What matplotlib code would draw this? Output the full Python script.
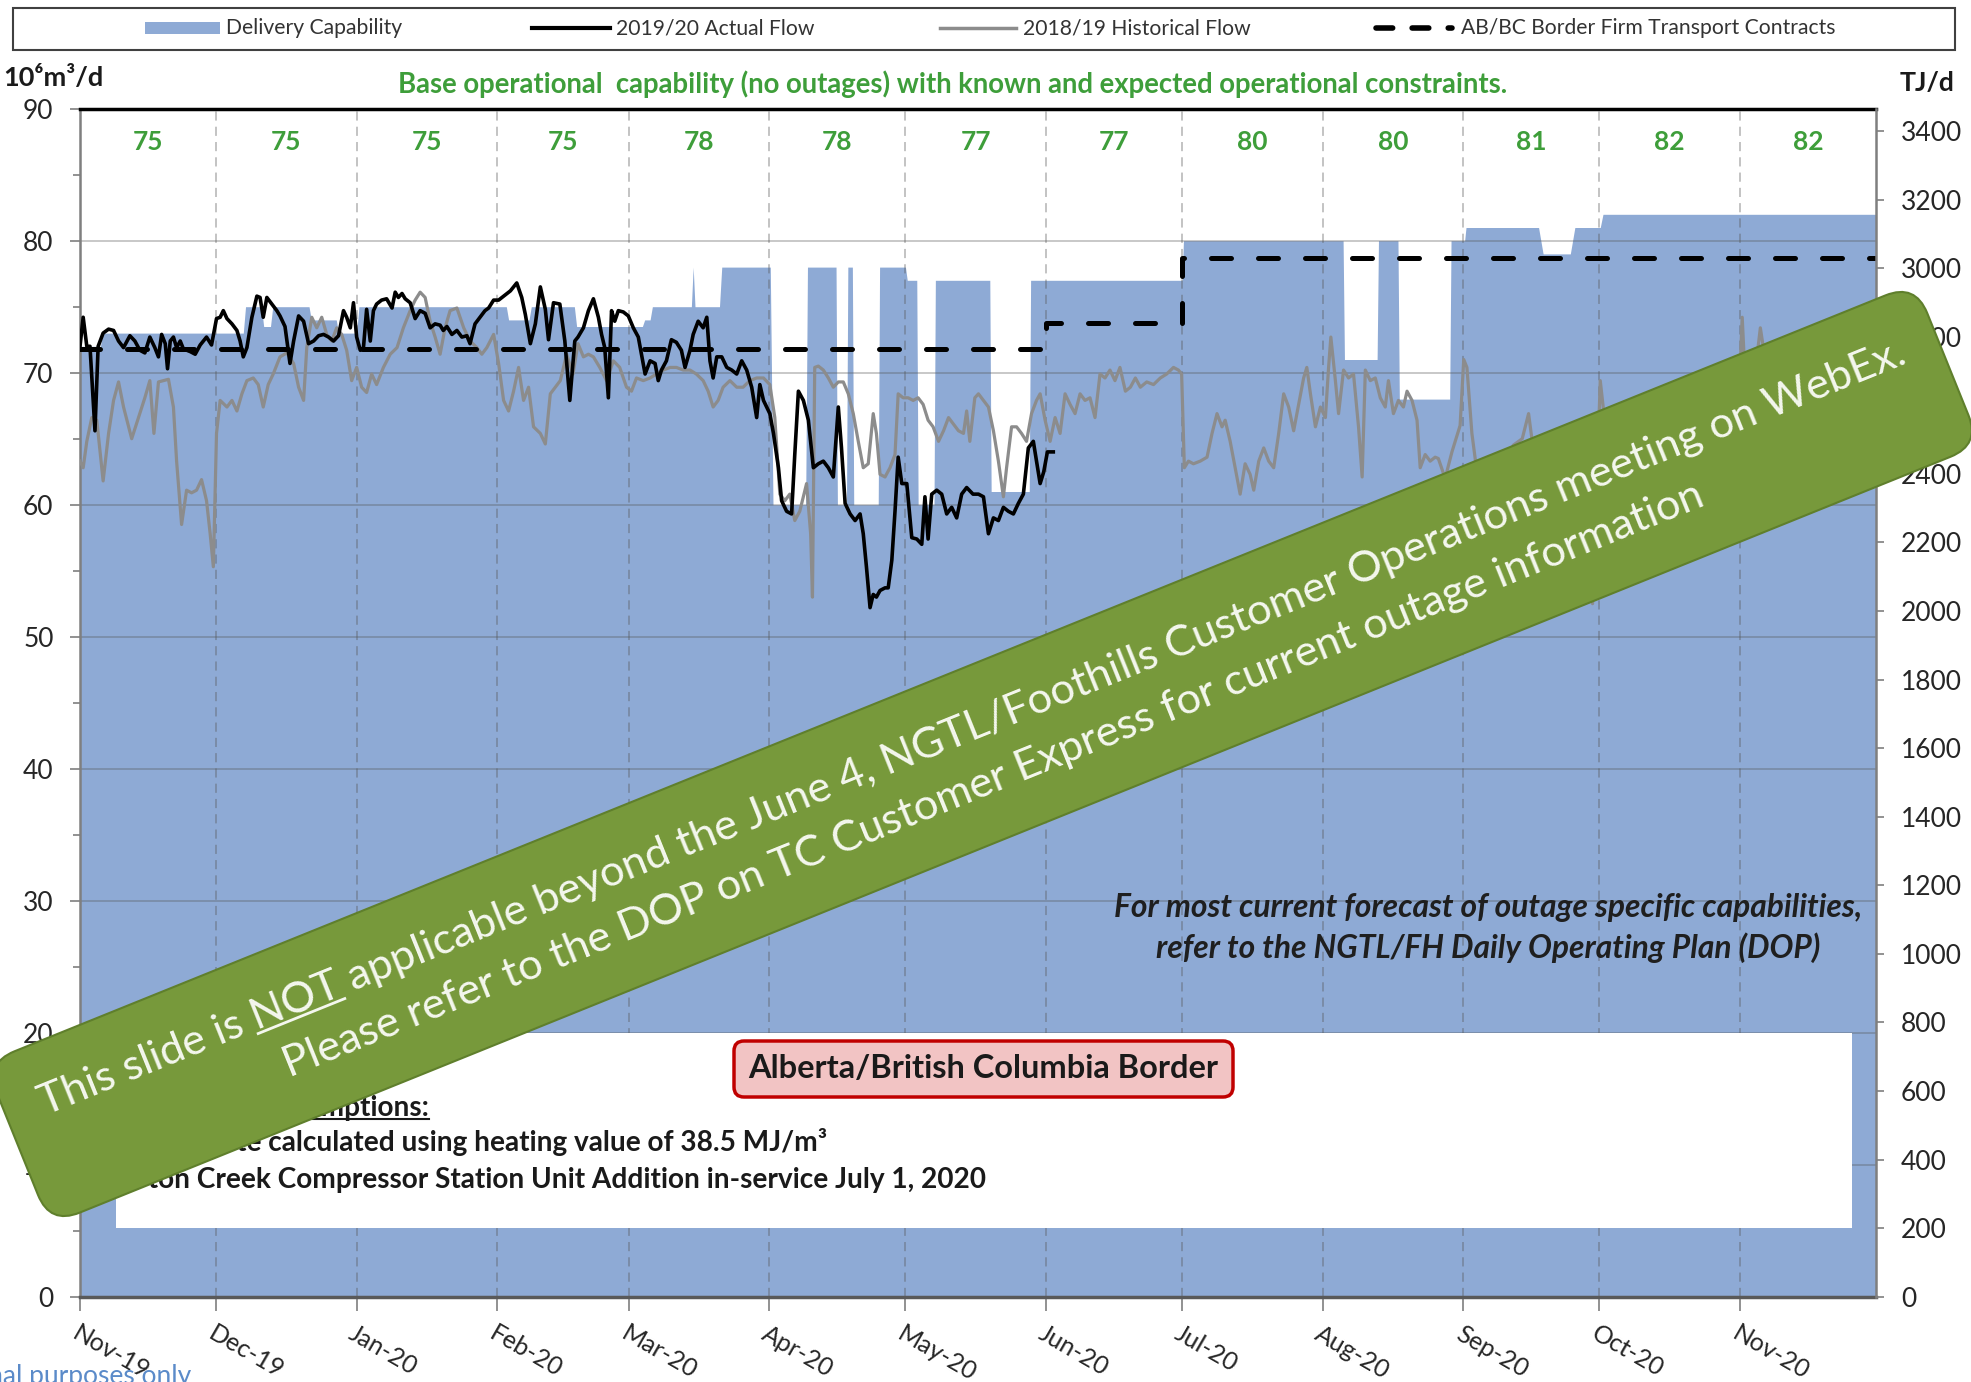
import numpy as np
import matplotlib
matplotlib.use('Agg')
import matplotlib.pyplot as plt
from matplotlib.patches import Rectangle, FancyBboxPatch
from matplotlib.lines import Line2D
from matplotlib.transforms import Affine2D

W, H = 1971, 1382
plt.rcParams['font.family'] = ['Lato', 'DejaVu Sans']

# ---- data (x = days since 2019-11-01) ----
months = ['Nov-19', 'Dec-19', 'Jan-20', 'Feb-20', 'Mar-20', 'Apr-20', 'May-20',
          'Jun-20', 'Jul-20', 'Aug-20', 'Sep-20', 'Oct-20', 'Nov-20']
base_cap = [75, 75, 75, 75, 78, 78, 77, 77, 80, 80, 81, 82, 82]
x_end = 396

cap_day = [0, 4.5, 5, 36, 36.5, 40, 40.5, 42, 42.5, 50.5, 51, 56.5, 57, 61, 61.5, 94, 94.5, 99,
           99.5, 109, 109.5, 124, 124.5, 125.7, 126.2, 134.8, 135.2, 135.6, 141, 141.5, 152.2,
           152.8, 160, 160.4, 166.7, 167, 169, 169.3, 170.3, 170.6, 176, 176.3, 182, 182.4, 184.5,
           184.8, 188.3, 188.6, 200.6, 200.9, 209.3, 209.6, 243, 243.3, 278.5, 278.8, 286, 286.3,
           290.6, 290.9, 302, 302.3, 305.3, 305.6, 321.6, 322.6, 328.6, 329.6, 335.2, 335.8, 396]
cap_val = [72, 72, 73, 73, 75, 75, 73.5, 73.5, 75, 75, 74, 74, 73, 73, 75, 75, 74, 74,
           75, 75, 73.5, 73.5, 74, 74, 75, 75, 78, 75, 75, 78, 78,
           60, 60, 78, 78, 60, 60, 78, 78, 60, 60, 78, 78, 77, 77,
           60, 60, 77, 77, 61, 61, 77, 77, 80, 80, 71, 71, 80,
           80, 68, 68, 80, 80, 81, 81, 79, 79, 81, 81, 82, 82]

act_day = [0, 0.7, 1.5, 2.2, 3.3, 4.0, 5.1, 6.3, 7.4, 8.5, 9.6, 11.0, 12.1, 13.2, 14.3, 15.4, 16.5,
           17.3, 18.0, 18.8, 19.3, 19.9, 20.6, 21.3, 22.1, 22.8, 24.3, 25.4, 26.5, 27.9, 29.0, 30.1,
           30.9, 31.6, 32.4, 33.5, 34.6, 35.3, 36.0, 36.8, 37.9, 39.0, 39.7, 40.4, 41.2, 42.3, 43.4,
           44.1, 45.2, 46.3, 47.1, 48.2, 49.3, 50.4, 51.5, 52.6, 53.7, 54.8, 55.9, 57.0, 58.1, 58.8,
           59.6, 60.3, 61.0, 61.8, 62.5, 63.2, 64.0, 64.7, 65.4, 66.5, 67.6, 68.8, 69.5, 70.2, 71.0,
           71.7, 72.8, 73.9, 75.0, 76.1, 77.2, 78.3, 79.4, 80.1, 80.9, 82.0, 83.1, 84.2, 85.3, 86.0,
           87.1, 88.2, 89.3, 90.1, 91.2, 92.3, 93.4, 94.9, 96.3, 97.4, 98.2, 99.3, 100.4, 101.5,
           102.6, 103.3, 104.4, 105.8, 106.9, 108.0, 109.1, 109.8, 111.0, 112.1, 113.2, 114.3,
           115.0, 115.7, 116.5, 117.2, 117.9, 118.7, 119.8, 120.9, 122.0, 123.1, 123.8, 124.6,
           125.7, 126.8, 127.5, 128.2, 129.3, 130.4, 131.5, 132.6, 133.4, 134.5, 135.2, 136.3,
           137.4, 138.2, 138.9, 139.6, 140.4, 141.5, 142.6, 143.7, 144.8, 145.9, 147.0, 148.1,
           149.2, 149.9, 150.7, 151.4, 152.1, 152.9, 154.0, 154.7, 155.8, 156.9, 157.6, 158.4,
           159.5, 160.6, 161.7, 162.8, 163.9, 165.0, 166.1, 167.2, 167.9, 168.7, 169.8, 170.9,
           172.0, 172.7, 173.4, 174.2, 174.9, 175.6, 176.4, 177.5, 178.2, 179.0, 179.7, 180.4,
           181.2, 182.3, 183.4, 184.5, 185.6, 186.3, 187.0, 187.8, 188.9, 190.0, 191.1, 192.2,
           193.3, 194.4, 195.5, 196.9, 198.1, 199.2, 200.3, 201.4, 202.5, 203.6, 204.7, 205.8,
           206.9, 208.0, 209.1, 210.2, 211.7, 212.5, 213.3, 214.6]
act_val = [72.0, 74.2, 72.0, 72.0, 65.6, 72.0, 73.0, 73.3, 73.2, 72.4, 71.9, 72.8, 72.4, 71.7, 71.5,
           72.7, 71.9, 71.2, 72.9, 72.2, 70.3, 72.4, 72.7, 71.9, 72.4, 71.8, 71.6, 71.4, 72.1, 72.7,
           72.1, 74.1, 74.2, 74.7, 74.1, 73.7, 73.2, 72.4, 71.2, 71.9, 74.2, 75.8, 75.7, 74.2, 75.7,
           75.2, 74.7, 74.3, 73.5, 70.7, 72.4, 74.3, 73.9, 72.2, 72.4, 72.8, 72.9, 72.7, 72.4, 72.8,
           74.7, 74.2, 73.4, 75.3, 72.7, 71.7, 71.9, 74.8, 72.4, 74.7, 75.2, 75.5, 75.6, 74.9, 76.1,
           75.7, 76.0, 75.6, 75.3, 74.1, 74.7, 74.5, 73.4, 73.7, 73.6, 73.2, 73.5, 72.9, 73.2, 72.7,
           72.8, 72.2, 73.7, 74.2, 74.7, 74.9, 75.5, 75.5, 75.8, 76.2, 76.8, 75.7, 74.4, 72.2, 73.7,
           76.5, 74.8, 72.5, 75.3, 75.2, 72.4, 67.9, 72.4, 72.7, 73.4, 74.7, 75.6, 74.2, 72.9, 71.9,
           68.1, 74.7, 73.9, 74.7, 74.6, 74.3, 73.4, 72.7, 71.4, 69.9, 70.9, 70.7, 69.4, 70.2, 70.9,
           72.5, 72.3, 71.7, 70.4, 71.7, 72.9, 73.9, 73.4, 74.2, 70.9, 69.6, 71.2, 71.2, 70.4, 70.2,
           69.9, 70.9, 70.2, 68.9, 66.6, 69.1, 67.9, 67.4, 66.9, 65.4, 62.8, 60.3, 59.5, 59.3, 63.8,
           68.6, 67.9, 66.4, 62.8, 63.1, 63.3, 62.8, 62.1, 67.4, 64.3, 60.1, 59.3, 58.8, 59.3, 57.8,
           55.3, 52.2, 53.2, 53.0, 53.5, 53.7, 53.7, 55.8, 59.5, 63.6, 61.6, 61.6, 57.5, 57.4, 57.0,
           60.6, 57.4, 60.8, 61.1, 60.8, 59.3, 59.8, 59.0, 60.8, 61.3, 60.8, 60.8, 60.6, 57.8, 59.0,
           58.8, 59.8, 59.5, 59.3, 60.1, 60.8, 64.3, 64.8, 61.6, 62.5, 64.0, 64.0]

hist_day = [0, 0.7, 1.5, 2.6, 3.7, 5.1, 6.3, 7.4, 8.5, 9.6, 11.4, 12.9, 14.3, 15.4, 16.3, 17.3, 18.4,
            19.5, 20.6, 21.3, 22.4, 23.5, 24.6, 25.7, 26.8, 27.9, 28.7, 29.4, 30.1, 30.9, 32.4, 33.5,
            34.6, 35.7, 36.8, 38.2, 39.3, 40.4, 41.5, 42.6, 44.1, 45.6, 47.1, 48.2, 49.3, 50.0, 51.1,
            52.2, 53.3, 54.4, 55.5, 56.6, 57.7, 58.8, 59.9, 61.0, 62.1, 63.2, 64.3, 65.4, 66.9, 68.4,
            69.9, 71.3, 72.8, 73.9, 75.0, 76.1, 77.2, 78.3, 79.4, 80.5, 81.6, 83.1, 84.6, 86.0, 87.5,
            88.6, 89.7, 91.2, 92.3, 93.4, 94.5, 95.6, 96.7, 97.8, 98.9, 100.0, 101.5, 102.6, 103.7,
            104.8, 105.9, 107.3, 108.7, 109.8, 111.0, 112.1, 113.2, 114.6, 116.1, 117.6, 119.0,
            120.5, 121.6, 122.7, 124.2, 125.7, 127.1, 128.6, 130.1, 131.5, 133.0, 134.5, 135.9,
            137.4, 138.5, 139.6, 140.7, 141.8, 143.3, 144.8, 146.2, 147.7, 149.2, 150.7, 152.1,
            153.2, 154.3, 155.4, 156.5, 157.6, 158.7, 160.2, 161.1, 161.5, 162.0, 162.8, 163.9,
            165.0, 166.1, 167.2, 168.3, 169.4, 170.5, 171.6, 172.7, 173.8, 174.9, 175.6, 176.4,
            177.5, 178.6, 179.7, 180.4, 181.5, 182.6, 183.7, 184.8, 185.9, 187.0, 188.1, 189.3,
            190.4, 191.5, 192.6, 193.7, 194.8, 195.5, 196.2, 197.3, 198.1, 199.2, 200.3, 201.4,
            202.5, 203.6, 204.3, 205.4, 206.5, 207.6, 208.7, 209.8, 210.9, 211.7, 212.8, 213.9,
            215.0, 216.1, 217.2, 218.3, 219.4, 220.5, 221.6, 222.7, 223.8, 224.9, 226.0, 227.1,
            228.2, 229.3, 230.5, 231.6, 232.7, 233.8, 235.2, 236.7, 238.2, 239.6, 241.1, 242.2,
            242.9, 243.5, 244.4, 245.5, 247.0, 248.5, 249.6, 250.7, 251.8, 252.5, 253.6, 254.7,
            255.8, 256.9, 258.0, 258.8, 259.9, 261.0, 262.1, 263.2, 264.3, 265.4, 266.5, 267.6,
            268.7, 269.8, 270.5, 271.3, 272.4, 273.5, 274.6, 275.3, 275.8, 276.8, 277.5, 278.6,
            279.7, 280.8, 281.9, 282.7, 283.4, 284.5, 285.6, 286.7, 287.8, 288.5, 289.6, 290.7,
            291.8, 292.6, 293.7, 294.8, 295.5, 296.6, 297.7, 298.8, 299.5, 301, 302.5, 304.3, 305.1,
            305.8, 306.9, 308, 310, 312, 314, 316, 318, 319.4, 320.5, 322, 324, 326, 328, 330, 332,
            333.5, 334.3, 335.2, 336.3, 338, 340, 342, 345, 348, 351, 354, 357, 360, 363, 365.5,
            366.5, 367.5, 369, 370.5, 372, 375, 378, 381, 384, 387, 390, 393, 395.5]
hist_val = [63.3, 62.8, 64.8, 66.6, 66.4, 61.8, 65.4, 67.9, 69.3, 67.4, 65.0, 66.6, 68.1, 69.4, 65.4,
            69.3, 69.4, 69.5, 67.4, 63.3, 58.5, 61.1, 60.9, 61.1, 61.9, 60.3, 57.8, 55.3, 65.4, 67.9,
            67.4, 67.9, 67.1, 68.4, 69.4, 69.6, 69.1, 67.4, 69.1, 69.9, 71.2, 71.5, 70.7, 68.9, 67.9,
            71.9, 74.2, 73.4, 74.2, 72.9, 72.4, 73.4, 72.9, 71.7, 69.4, 70.4, 68.9, 68.5, 69.9, 69.1,
            70.4, 71.4, 71.9, 73.4, 74.7, 75.5, 76.1, 75.7, 73.9, 72.7, 71.4, 73.4, 74.7, 74.9, 73.4,
            72.4, 71.9, 71.4, 71.9, 72.9, 70.7, 67.9, 67.1, 68.6, 70.4, 67.9, 68.9, 65.9, 65.4, 64.6,
            68.4, 68.9, 69.4, 71.4, 69.9, 72.2, 71.2, 71.4, 71.2, 70.4, 69.4, 70.9, 70.4, 68.9, 68.6,
            69.6, 69.4, 69.6, 69.9, 70.2, 70.4, 70.4, 70.2, 70.2, 69.9, 69.4, 68.6, 67.4, 67.9, 68.9,
            69.4, 68.9, 68.9, 69.4, 69.6, 69.6, 69.1, 66.6, 60.8, 60.3, 60.8, 58.8, 59.5, 61.6, 57.8,
            53.0, 70.4, 70.5, 70.2, 69.6, 68.9, 69.3, 69.3, 68.4, 66.9, 64.8, 62.8, 63.1, 66.9, 65.4,
            62.3, 62.1, 62.8, 63.8, 68.4, 68.1, 68.1, 67.9, 68.1, 67.6, 66.4, 65.9, 64.8, 65.6, 66.6,
            66.1, 65.6, 65.4, 67.1, 64.8, 68.1, 68.4, 67.9, 67.4, 65.6, 63.3, 60.6, 62.8, 65.9, 65.9,
            65.4, 64.8, 66.9, 67.9, 68.4, 66.4, 64.8, 66.6, 65.4, 68.4, 67.6, 66.9, 68.4, 67.9, 68.1,
            66.6, 69.9, 69.6, 70.2, 69.4, 70.4, 68.6, 68.9, 69.6, 68.9, 69.3, 69.1, 69.6, 69.9, 70.4,
            70.2, 69.9, 62.8, 63.3, 63.1, 63.3, 63.6, 65.4, 66.9, 65.9, 66.4, 64.8, 62.8, 60.8, 63.1,
            62.3, 61.1, 63.3, 64.3, 63.3, 62.8, 65.4, 68.4, 67.4, 65.6, 67.6, 69.6, 70.4, 68.4, 65.9,
            67.4, 66.6, 70.4, 72.7, 69.4, 66.9, 70.2, 69.6, 69.9, 65.9, 62.1, 70.2, 69.4, 69.6, 68.1,
            67.4, 69.4, 66.9, 67.9, 67.4, 68.6, 67.9, 66.4, 62.8, 63.8, 63.3, 63.6, 63.5, 62, 64, 66,
            71.0, 70.4, 65.4, 62.5, 61.5, 63, 62, 64.5, 65, 66.9, 64, 61, 62, 60.5, 61.5, 59, 56,
            52.5, 60, 69.4, 66, 63, 62, 64, 63, 61, 63, 64, 62, 63.5, 64, 66,
            74.2, 67, 69, 73.4, 70, 67, 66, 68, 66, 67, 65, 66, 67]

contract_day = [0, 213, 243, 396]
contract_val = [71.8, 73.8, 78.7, 78.7]

TJ_PER_E6M3 = 38.5

BLUE = '#8EAAD5'
GREEN = '#3E9E3A'

# ---- figure ----
fig = plt.figure(figsize=(W / 100, H / 100), dpi=100)
r = fig.canvas.get_renderer()
px = Affine2D().scale(1 / W, 1 / H) + fig.transFigure   # pixel coords, y up


def fit(t, width):
    bb = t.get_window_extent(renderer=r)
    t.set_fontsize(t.get_fontsize() * width / bb.width)
    return t


month_start = (np.arange('2019-11', '2020-12', dtype='datetime64[M]').astype('datetime64[D]')
               - np.datetime64('2019-11-01')).astype(int)
month_end = list(month_start[1:]) + [x_end]

ax = fig.add_axes([80 / W, (H - 1296.7) / H, 1796 / W, 1188 / H])
ax.fill_between(cap_day, 0, cap_val, color=BLUE, lw=0, zorder=1)
for y in range(10, 90, 10):
    ax.axhline(y, color='#555555', alpha=0.35, lw=1.3, zorder=2)
for d in month_start[1:]:
    ax.axvline(d, color='#555555', alpha=0.45, lw=1.1, ls=(0, (6, 4)), zorder=2)

ax.add_patch(Rectangle((7.9, 5.2), 390.7 - 7.9, 20 - 5.2, fc='white', ec='none', zorder=3))

ax.plot(hist_day, hist_val, color='#8C8C8C', lw=2.3, zorder=4, solid_joinstyle='round')
ax.plot(act_day, act_val, color='black', lw=2.6, zorder=5, solid_joinstyle='round')
ax.plot(contract_day, contract_val, color='black', lw=3.6, drawstyle='steps-post',
        dashes=(4, 5.4), dash_capstyle='round', zorder=6)

for i, v in enumerate(base_cap):
    ax.text((month_start[i] + month_end[i]) / 2, 87.5, str(v), ha='center', va='center',
            color=GREEN, fontsize=19, fontweight='bold', zorder=7)

ax.set_xlim(0, x_end)
ax.set_ylim(0, 90)
ax.set_yticks(range(0, 91, 10))
ax.set_yticks(range(5, 90, 10), minor=True)
ax.tick_params(axis='y', which='major', length=7, width=1.2, color='#7f7f7f', labelsize=19,
               pad=12, labelcolor='#262626')
ax.tick_params(axis='y', which='minor', length=5, width=1.2, color='#7f7f7f')
ax.set_xticks(month_start)
ax.set_xticklabels(months)
ax.tick_params(axis='x', length=10, width=1.2, color='#7f7f7f', labelsize=18, pad=8,
               labelcolor='#262626')
plt.setp(ax.get_xticklabels(), rotation=-30, ha='left', va='top', rotation_mode='anchor')

ax.spines['top'].set_color('black')
ax.spines['top'].set_linewidth(2.5)
ax.spines['bottom'].set_color('#595959')
ax.spines['bottom'].set_linewidth(2.5)
ax.spines['left'].set_color('#7f7f7f')
ax.spines['left'].set_linewidth(1.8)
ax.spines['right'].set_visible(False)

ax2 = ax.twinx()
ax2.set_ylim(0, 90 * TJ_PER_E6M3)
ax2.set_yticks(range(0, 3401, 200))
ax2.tick_params(axis='y', length=6, width=1.2, color='#7f7f7f', labelsize=19, pad=12,
                labelcolor='#262626')
for s in ['top', 'bottom', 'left']:
    ax2.spines[s].set_visible(False)
ax2.spines['right'].set_color('#7f7f7f')
ax2.spines['right'].set_linewidth(1.8)

# ---- legend box ----
fig.add_artist(Rectangle((13, H - 50), 1942, 42, transform=px, fill=False, ec='#404040', lw=1.5))
fig.add_artist(Rectangle((145, H - 34), 75, 12, transform=px, fc=BLUE, ec='none'))
fig.add_artist(Line2D([532, 610], [H - 28] * 2, transform=px, color='black', lw=3))
fig.add_artist(Line2D([940, 1016], [H - 28] * 2, transform=px, color='#8C8C8C', lw=2.5))
fig.add_artist(Line2D([1376, 1452], [H - 28] * 2, transform=px, color='black', lw=4,
                      dashes=(3, 3.5), dash_capstyle='round'))
leg = [(226, 'Delivery Capability'), (616, '2019/20 Actual Flow'),
       (1023, '2018/19 Historical Flow'), (1461, 'AB/BC Border Firm Transport Contracts')]
lt = [fig.text(x, H - 28, s, transform=px, va='center', ha='left', fontsize=14, color='#333333')
      for x, s in leg]
fit(lt[-1], 375)
for t in lt:
    t.set_fontsize(lt[-1].get_fontsize())

# ---- titles ----
t = fig.text(953, H - 84, 'Base operational  capability (no outages) with known and expected '
             'operational constraints.', transform=px, ha='center', va='center',
             color=GREEN, fontweight='bold', fontsize=18)
fit(t, 1115)
t = fig.text(3, H - 78, '10⁶m³/d', transform=px, ha='left', va='center', fontweight='bold',
             fontsize=18, color='#1a1a1a')
fit(t, 100)
t = fig.text(1900, H - 83, 'TJ/d', transform=px, ha='left', va='center', fontweight='bold',
             fontsize=18, color='#1a1a1a')
fit(t, 55)

# ---- notes ----
n1 = fig.text(1488, H - 907.5, 'For most current forecast of outage specific capabilities,',
              transform=px, ha='center', va='center', style='italic', fontweight='bold',
              fontsize=19, color='#1f1f1f')
fit(n1, 748)
fig.text(1488, H - 948, 'refer to the NGTL/FH Daily Operating Plan (DOP)', transform=px,
         ha='center', va='center', style='italic', fontweight='bold',
         fontsize=n1.get_fontsize(), color='#1f1f1f')

fig.add_artist(FancyBboxPatch((734, H - 1097), 499, 56, boxstyle='round,pad=0,rounding_size=10',
                              transform=px, fc='#F2C4C4', ec='#C00000', lw=2.5))
t = fig.text(983, H - 1069, 'Alberta/British Columbia Border', transform=px, ha='center',
             va='center', fontweight='bold', fontsize=20, color='#1a1a1a')
fit(t, 470)

tmp = fig.text(0, 0, 'ate calculated using heating value of 38.5 MJ/m³', transform=px,
               fontweight='bold', fontsize=17)
fit(tmp, 607)
fs_k = tmp.get_fontsize()
tmp.remove()
ka = fig.text(429, H - 1116, 'Key Assumptions:', transform=px, ha='right', va='baseline',
              fontweight='bold', fontsize=fs_k, color='#1a1a1a')
bb = ka.get_window_extent(renderer=r)
fig.add_artist(Line2D([bb.x0, bb.x1], [H - 1119] * 2, transform=px, color='#1a1a1a', lw=1.5))
fig.text(827, H - 1151, 'TJ/d rate calculated using heating value of 38.5 MJ/m³', transform=px,
         ha='right', va='baseline', fontweight='bold', fontsize=fs_k, color='#1a1a1a')
fig.text(986, H - 1188, 'Burton Creek Compressor Station Unit Addition in-service July 1, 2020',
         transform=px, ha='right', va='baseline', fontweight='bold', fontsize=fs_k,
         color='#1a1a1a')

fig.text(191, H - 1364, 'For informational purposes only', transform=px, ha='right', va='top',
         fontsize=19, color='#5B8BC9')

# ---- banner ----
ang = 22
cx, cy = 982.6, H - 754
rot = Affine2D().rotate_deg_around(cx, cy, ang) + px
fig.add_artist(FancyBboxPatch((cx - 1041, cy - 87), 2082, 174,
                              boxstyle='round,pad=0,rounding_size=32', transform=rot,
                              fc='#77993B', ec='#5F7F2C', lw=1.5, zorder=20))

line1 = ('This slide is NOT applicable beyond the June 4, NGTL/Foothills Customer '
         'Operations meeting on WebEx.')
line2 = 'Please refer to the DOP on TC Customer Express for current outage information'
t1 = fig.text(0, 0, line1, transform=px, fontsize=30, fontweight='normal', va='baseline')
fit(t1, 2008)
fs = t1.get_fontsize()
bb1 = t1.get_window_extent(renderer=r)
c_off = (bb1.y0 + bb1.y1) / 2
w_tot = bb1.width
tmp = fig.text(0, 0, 'This slide is NOT', transform=px, fontsize=fs, fontweight='normal')
w_a = tmp.get_window_extent(renderer=r).width
tmp.remove()
tmp = fig.text(0, 0, 'NOT', transform=px, fontsize=fs, fontweight='normal')
w_n = tmp.get_window_extent(renderer=r).width
tmp.remove()

ca, sa = np.cos(np.radians(ang)), np.sin(np.radians(ang))
q1 = (cx - 28.5 * sa, cy + 28.5 * ca)
q2 = (cx + 28.5 * sa, cy - 28.5 * ca)
t2 = fig.text(0, 0, line2, transform=px, fontsize=fs, fontweight='normal')
for t, q in [(t1, q1), (t2, q2)]:
    t.set_position(q)
    t.set_rotation(ang)
    t.set_rotation_mode('anchor')
    t.set_ha('center')
    t.set_va('center')
    t.set_color('#F4F7EE')
    t.set_zorder(21)

a0 = -w_tot / 2 + w_a - w_n
dn = c_off + 0.1 * fs * 100 / 72
sx, sy = q1[0] + ca * a0 + sa * dn, q1[1] + sa * a0 - ca * dn
fig.add_artist(Line2D([sx, sx + ca * w_n], [sy, sy + sa * w_n], transform=px, color='#F4F7EE',
                      lw=2, zorder=21))

fig.savefig('out.png', dpi=100)
